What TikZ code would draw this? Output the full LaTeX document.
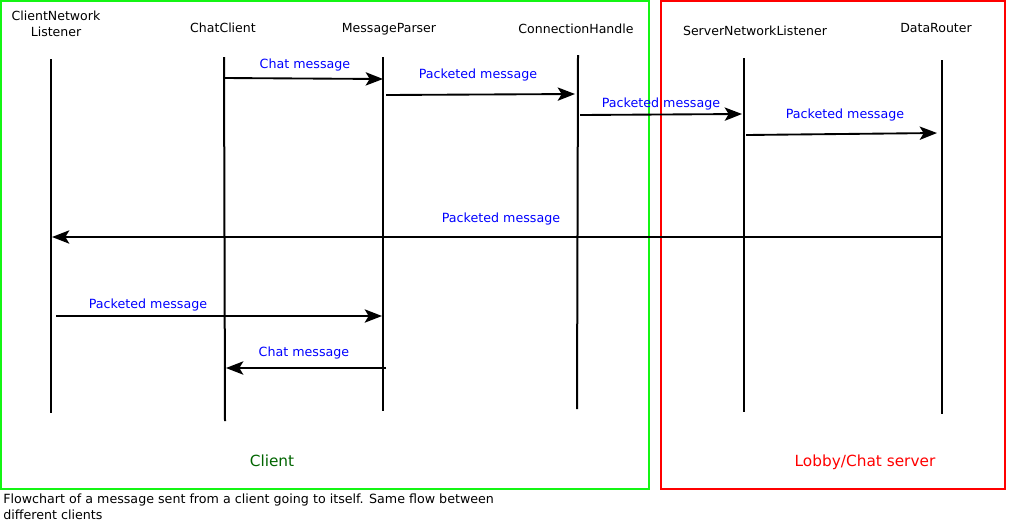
\documentclass[tikz,border=0pt]{standalone}
\usepackage{fontspec}
\setmainfont{DejaVu Sans}
\usetikzlibrary{arrows.meta}
\begin{document}
\begin{tikzpicture}[x=0.75pt,y=-0.75pt,
  life/.style={line width=1.5pt},
  msg/.style={line width=1.4pt,-{Stealth[length=13pt,width=10pt,inset=3pt]}},
  lbl/.style={text=blue,font=\fontsize{9.5}{11}\selectfont,inner sep=0pt},
  head/.style={font=\fontsize{9.4}{12}\selectfont,inner sep=0pt,align=center},
  grp/.style={line width=1.5pt}]
\useasboundingbox (0,0) rectangle (1009,526);
% group boxes
\draw[grp,draw={rgb,255:red,20;green,245;blue,20}] (1,1) rectangle (649,489);
\draw[grp,draw=red] (661,1) rectangle (1005,489);
\node[font=\fontsize{11.5}{14}\selectfont,text={rgb,255:red,0;green,100;blue,0},inner sep=0pt] (gc) at (272,461) {Client};
\node[font=\fontsize{11.5}{14}\selectfont,text=red,inner sep=0pt] (gs) at (865,462) {Lobby/Chat server};
% headers
\node[head] (h1) at (56,24) {ClientNetwork\\Listener};
\node[head] (h2) at (223,28) {ChatClient};
\node[head] (h3) at (389,29) {MessageParser};
\node[head] (h4) at (576,29) {ConnectionHandle};
\node[head] (h5) at (755,31) {ServerNetworkListener};
\node[head] (h6) at (936,28) {DataRouter};
% lifelines
\coordinate (a1) at (51,59);  \coordinate (b1) at (51,413);
\coordinate (a2) at (224,57); \coordinate (b2) at (225,421);
\coordinate (a3) at (383,57); \coordinate (b3) at (383,411);
\coordinate (a4) at (578,55); \coordinate (b4) at (577,409);
\coordinate (a5) at (744,58); \coordinate (b5) at (744,412);
\coordinate (a6) at (942,60); \coordinate (b6) at (942,414);
\foreach \i in {1,...,6} {\draw[life] (a\i) -- (b\i);}
% message end points
\coordinate (m1s) at (224,78);  \coordinate (m1e) at (383,79);
\coordinate (m2s) at (386,95);  \coordinate (m2e) at (575,94);
\coordinate (m3s) at (580,115); \coordinate (m3e) at (742,114);
\coordinate (m4s) at (746,135); \coordinate (m4e) at (937,133);
\coordinate (m5s) at (942,237); \coordinate (m5e) at (52,237);
\coordinate (m6s) at (56,316);  \coordinate (m6e) at (382,316);
\coordinate (m7s) at (386,368); \coordinate (m7e) at (226,368);
\foreach \i in {1,...,7} {\draw[msg] (m\i s) -- (m\i e);}
% labels
\node[lbl] (l1) at (305,64.5) {Chat message};
\node[lbl] (l2) at (478,74.5) {Packeted message};
\node[lbl] (l3) at (661,103.5) {Packeted message};
\node[lbl] (l4) at (845,114.5) {Packeted message};
\node[lbl] (l5) at (501,218.5) {Packeted message};
\node[lbl] (l6) at (148,304.5) {Packeted message};
\node[lbl] (l7) at (304,352.5) {Chat message};
% caption
\node[font=\fontsize{9.5}{12}\selectfont,align=left,anchor=north west,inner sep=0pt] (cap) at (3,494)
  {Flowchart of a message sent from a client going to itself. Same flow between\\different clients};
\end{tikzpicture}
\end{document}
